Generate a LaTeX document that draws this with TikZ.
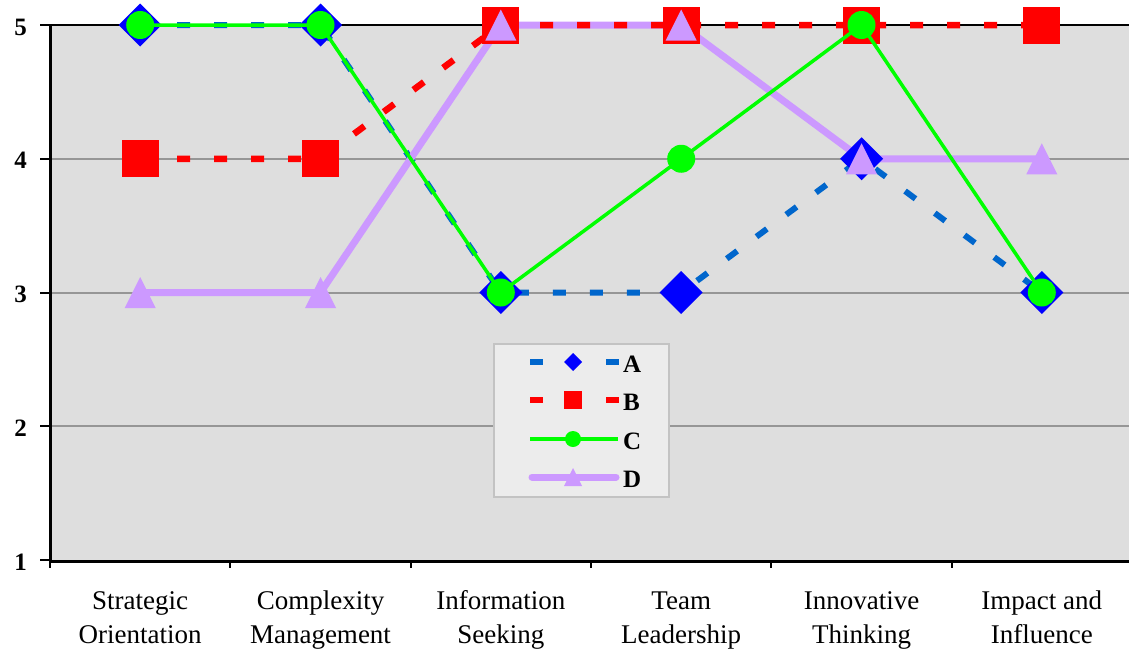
\documentclass[tikz,border=0pt]{standalone}
\usepackage{fontspec}
\setmainfont{Liberation Serif}
\definecolor{lineA}{HTML}{0066CC}
\definecolor{markA}{HTML}{0000FF}
\definecolor{colB}{HTML}{FF0000}
\definecolor{colC}{HTML}{00FF00}
\definecolor{colD}{HTML}{CC99FF}
\definecolor{plotbg}{RGB}{222,222,222}
\definecolor{legbg}{RGB}{236,236,236}
\definecolor{gridc}{RGB}{150,150,150}
\definecolor{legborder}{RGB}{195,195,195}
\begin{document}
\begin{tikzpicture}[x=1pt,y=-1pt,
  gridline/.style={draw=gridc,line width=2pt},
  axisline/.style={draw=black,line width=3pt},
  tickline/.style={draw=black,line width=2pt},
  serA/.style={draw=lineA,line width=6pt,dash pattern=on 13pt off 24pt},
  serB/.style={draw=colB,line width=6.5pt,dash pattern=on 13pt off 24pt},
  serC/.style={draw=colC,line width=3.5pt,line join=round},
  serD/.style={draw=colD,line width=7pt,line join=round,line cap=round},
  ylab/.style={font=\fontsize{25}{27}\selectfont\bfseries,anchor=east,inner sep=0pt},
  xlab/.style={font=\fontsize{27}{30}\selectfont,anchor=base,inner sep=0pt},
  leglab/.style={font=\fontsize{25}{27}\selectfont\bfseries,anchor=west,inner sep=0pt},
  mkdiamond/.pic={\fill[markA] (0,-21.5)--(21.5,0)--(0,21.5)--(-21.5,0)--cycle;},
  mksquare/.pic={\fill[colB] (-18.5,-18.5) rectangle (18.5,18.5);},
  mkcircle/.pic={\fill[colC] (0,0) circle (14);},
  mktri/.pic={\fill[colD] (0,-15.5)--(15.5,15.5)--(-15.5,15.5)--cycle;},
  lgdiamond/.pic={\fill[markA] (0,-9)--(9,0)--(0,9)--(-9,0)--cycle;},
  lgsquare/.pic={\fill[colB] (-9,-9) rectangle (9,9);},
  lgcircle/.pic={\fill[colC] (0,0) circle (8);},
  lgtri/.pic={\fill[colD] (0,-9)--(9,9)--(-9,9)--cycle;}
]
\useasboundingbox (0,0) rectangle (1129,651);
% plot area
\fill[plotbg] (50,25) rectangle (1129,560);
\draw[gridline] (50,158.75) -- (1129,158.75);
\draw[gridline] (50,292.5) -- (1129,292.5);
\draw[gridline] (50,426.25) -- (1129,426.25);
\draw[tickline] (50,25) -- (1129,25);
% y ticks and labels
\foreach \v/\yy in {5/25,4/158.75,3/292.5,2/426.25,1/560}{
  \draw[tickline] (40,\yy) -- (50,\yy);
  \node[ylab] (y\v) at (27,\yy+2) {\v};
}
% axes
\draw[axisline] (50,25) -- (50,561.5) -- (1129,561.5);
\foreach \xx in {50,230.3,410.7,591,771.3,951.7}{
  \draw[tickline] (\xx,560) -- (\xx,568);
}
% category labels
\node[xlab] (l1a) at (140.2,609) {Strategic};
\node[xlab] (l1b) at (140.2,643) {Orientation};
\node[xlab] (l2a) at (320.5,609) {Complexity};
\node[xlab] (l2b) at (320.5,643) {Management};
\node[xlab] (l3a) at (500.8,609) {Information};
\node[xlab] (l3b) at (500.8,643) {Seeking};
\node[xlab] (l4a) at (681.2,609) {Team};
\node[xlab] (l4b) at (681.2,643) {Leadership};
\node[xlab] (l5a) at (861.5,609) {Innovative};
\node[xlab] (l5b) at (861.5,643) {Thinking};
\node[xlab] (l6a) at (1041.8,609) {Impact and};
\node[xlab] (l6b) at (1041.8,643) {Influence};
% data points
\coordinate (a1) at (140.2,25);    \coordinate (a2) at (320.5,25);
\coordinate (a3) at (500.8,292.5); \coordinate (a4) at (681.2,292.5);
\coordinate (a5) at (861.5,158.75);\coordinate (a6) at (1041.8,292.5);
\coordinate (b1) at (140.2,158.75);\coordinate (b2) at (320.5,158.75);
\coordinate (b3) at (500.8,25);    \coordinate (b4) at (681.2,25);
\coordinate (b5) at (861.5,25);    \coordinate (b6) at (1041.8,25);
\coordinate (c1) at (140.2,25);    \coordinate (c2) at (320.5,25);
\coordinate (c3) at (500.8,292.5); \coordinate (c4) at (681.2,158.75);
\coordinate (c5) at (861.5,25);    \coordinate (c6) at (1041.8,292.5);
\coordinate (d1) at (140.2,292.5); \coordinate (d2) at (320.5,292.5);
\coordinate (d3) at (500.8,25);    \coordinate (d4) at (681.2,25);
\coordinate (d5) at (861.5,158.75);\coordinate (d6) at (1041.8,158.75);
% series lines
\draw[serA] (a1) -- (a2) -- (a3) -- (a4) -- (a5) -- (a6);
\draw[serD] (d1) -- (d2) -- (d3) -- (d4) -- (d5) -- (d6);
\draw[serB] (b1) -- (b2) -- (b3) -- (b4) -- (b5) -- (b6);
\foreach \p in {a1,a2,a3,a4,a5,a6}{\pic at (\p) {mkdiamond};}
\foreach \p in {b1,b2,b3,b4,b5,b6}{\pic at (\p) {mksquare};}
\draw[serC] (c1) -- (c2) -- (c3) -- (c4) -- (c5) -- (c6);
\foreach \p in {c1,c2,c3,c4,c5,c6}{\pic at (\p) {mkcircle};}
\foreach \p in {d1,d2,d3,d4,d5,d6}{\pic at (\p) {mktri};}
% legend
\draw[draw=legborder,line width=2pt,fill=legbg] (494,344) rectangle (669,497);
\coordinate (lA0) at (530,362); \coordinate (lA1) at (543,362);
\coordinate (lAm) at (573,362);
\coordinate (lA2) at (606,362); \coordinate (lA3) at (619,362);
\draw[draw=lineA,line width=6pt] (lA0) -- (lA1);
\draw[draw=lineA,line width=6pt] (lA2) -- (lA3);
\pic at (lAm) {lgdiamond};
\node[leglab] (tA) at (623,364) {A};
\coordinate (lB0) at (530,400); \coordinate (lB1) at (543,400);
\coordinate (lBm) at (573,400);
\coordinate (lB2) at (606,400); \coordinate (lB3) at (619,400);
\draw[draw=colB,line width=6.5pt] (lB0) -- (lB1);
\draw[draw=colB,line width=6.5pt] (lB2) -- (lB3);
\pic at (lBm) {lgsquare};
\node[leglab] (tB) at (623,402) {B};
\coordinate (lC0) at (530,439); \coordinate (lCm) at (573,439);
\coordinate (lC1) at (618,439);
\draw[serC] (lC0) -- (lC1);
\pic at (lCm) {lgcircle};
\node[leglab] (tC) at (623,441) {C};
\coordinate (lD0) at (532,477); \coordinate (lDm) at (573,477);
\coordinate (lD1) at (616,477);
\draw[serD] (lD0) -- (lD1);
\pic at (lDm) {lgtri};
\node[leglab] (tD) at (623,479) {D};
\end{tikzpicture}
\end{document}
